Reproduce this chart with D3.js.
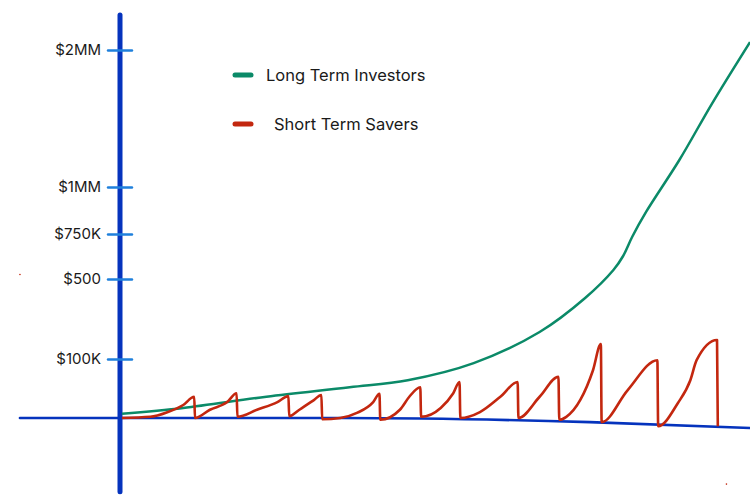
<!DOCTYPE html>
<html>
<head>
<meta charset="utf-8">
<script src="https://cdn.jsdelivr.net/npm/d3@7"></script>
<style>
  body { margin: 0; background: #fff; }
  svg { display: block; }
</style>
</head>
<body>
<div id="chart"></div>
<script>
// Hand-drawn style sketch: long term investing vs short term saving.
// x = years, y = balance in $K (the sketch's axis is not linear).

// 1) Data
const tickValues = [100, 500, 750, 1000, 2000];
const tickLabels = ["$100K", "$500", "$750K", "$1MM", "$2MM"];

const longTerm = [
  [0, 7], [3.9, 17], [9.2, 36], [14.5, 52], [18.2, 64], [22.4, 93],
  [26.6, 235], [29.5, 405], [31.3, 550], [31.9, 625], [32.5, 735],
  [33.4, 870], [35.5, 1197], [37.6, 1613], [40, 2058]
];

const shortTerm = [
  [0, 0], [1.8, 2], [2.9, 10], [3.9, 22], [4.6, 36], [4.65, 0],
  [5.6, 14], [6.7, 27], [7.3, 42], [7.35, 2],
  [8.6, 14], [9.9, 27], [10.6, 37], [10.65, 3],
  [11.3, 14], [12.2, 30], [12.7, 39], [12.75, -2],
  [13.9, 0], [15.0, 9], [16.0, 27], [16.4, 41], [16.45, -3],
  [17.7, 14], [18.3, 36], [19.0, 52], [19.05, 2],
  [20.3, 17], [21.1, 42], [21.5, 61], [21.55, 0],
  [22.8, 10], [24.1, 36], [25.2, 61], [25.25, 0],
  [26.6, 36], [27.8, 70], [27.85, -3],
  [28.3, 2], [29.2, 31], [30.0, 81], [30.5, 175], [30.55, -7],
  [32.2, 47], [34.1, 98], [34.15, -14],
  [35.4, 25], [36.2, 64], [36.6, 98], [37.9, 195], [37.95, -14]
];

const baseline = [[-6.5, 0], [14, 0], [29.8, -7], [40, -17]];
const yAxisExtent = [-125, 2255];
const specks = [[-6.5, 525], [38.5, -112]];

const legendItems = ["Long Term Investors", "Short Term Savers"];
const colors = { long: "#0b8a68", short: "#c3270f", axis: "#0533bd", tick: "#1f80dc" };

// 2) Dimensions
const width = 750, height = 500;
const font = "Inter, 'Noto Sans', sans-serif";

const svg = d3.select("#chart").append("svg")
  .attr("width", width)
  .attr("height", height);

// 3) Scales
const x = d3.scaleLinear().domain([0, 40]).range([122, 750]);
const y = d3.scaleLinear()
  .domain([0, 100, 500, 750, 1000, 2000])
  .range([418, 359, 279, 234, 187, 50]);

const line = d3.line()
  .x(d => x(d[0]))
  .y(d => y(d[1]))
  .curve(d3.curveMonotoneX);

// 4) Axes (sketchy)
svg.append("path")
  .datum(baseline)
  .attr("d", line)
  .attr("fill", "none")
  .attr("stroke", colors.axis)
  .attr("stroke-width", 2.6)
  .attr("stroke-linecap", "round");

svg.append("line")
  .attr("x1", 120).attr("x2", 120)
  .attr("y1", y(yAxisExtent[1])).attr("y2", y(yAxisExtent[0]))
  .attr("stroke", colors.axis)
  .attr("stroke-width", 5)
  .attr("stroke-linecap", "round");

const yAxis = svg.append("g")
  .attr("transform", "translate(120,0)")
  .call(d3.axisLeft(y)
    .tickValues(tickValues)
    .tickFormat((d, i) => tickLabels[i])
    .tickSize(0)
    .tickPadding(19));
yAxis.select(".domain").remove();
yAxis.selectAll(".tick line")
  .attr("x1", -12).attr("x2", 12)
  .attr("stroke", colors.tick)
  .attr("stroke-width", 2.4)
  .attr("stroke-linecap", "round");
yAxis.selectAll(".tick text")
  .attr("font-family", font)
  .attr("font-size", 15)
  .attr("fill", "#1a1a1a");

// 5) Series
svg.append("path")
  .datum(longTerm)
  .attr("d", line.curve(d3.curveCatmullRom.alpha(0.5)))
  .attr("fill", "none")
  .attr("stroke", colors.long)
  .attr("stroke-width", 2.5);

svg.append("path")
  .datum(shortTerm)
  .attr("d", line.curve(d3.curveMonotoneX))
  .attr("fill", "none")
  .attr("stroke", colors.short)
  .attr("stroke-width", 2.6)
  .attr("stroke-linejoin", "round");

svg.selectAll("circle.speck")
  .data(specks)
  .enter().append("circle")
    .attr("class", "speck")
    .attr("cx", d => x(d[0]))
    .attr("cy", d => y(d[1]))
    .attr("r", 0.8)
    .attr("fill", colors.short);

// 6) Legend
const item = svg.append("g").selectAll("g")
  .data(legendItems)
  .enter().append("g")
    .attr("transform", (d, i) => `translate(233,${75 + i * 49})`);

item.append("line")
  .attr("x1", 2).attr("x2", 18)
  .attr("stroke", (d, i) => i === 0 ? colors.long : colors.short)
  .attr("stroke-width", 5)
  .attr("stroke-linecap", "round");

item.append("text")
  .attr("x", (d, i) => i === 0 ? 33 : 41)
  .attr("y", 6)
  .attr("font-family", font)
  .attr("font-size", 16.5)
  .attr("fill", "#1a1a1a")
  .text(d => d);
</script>
</body>
</html>
